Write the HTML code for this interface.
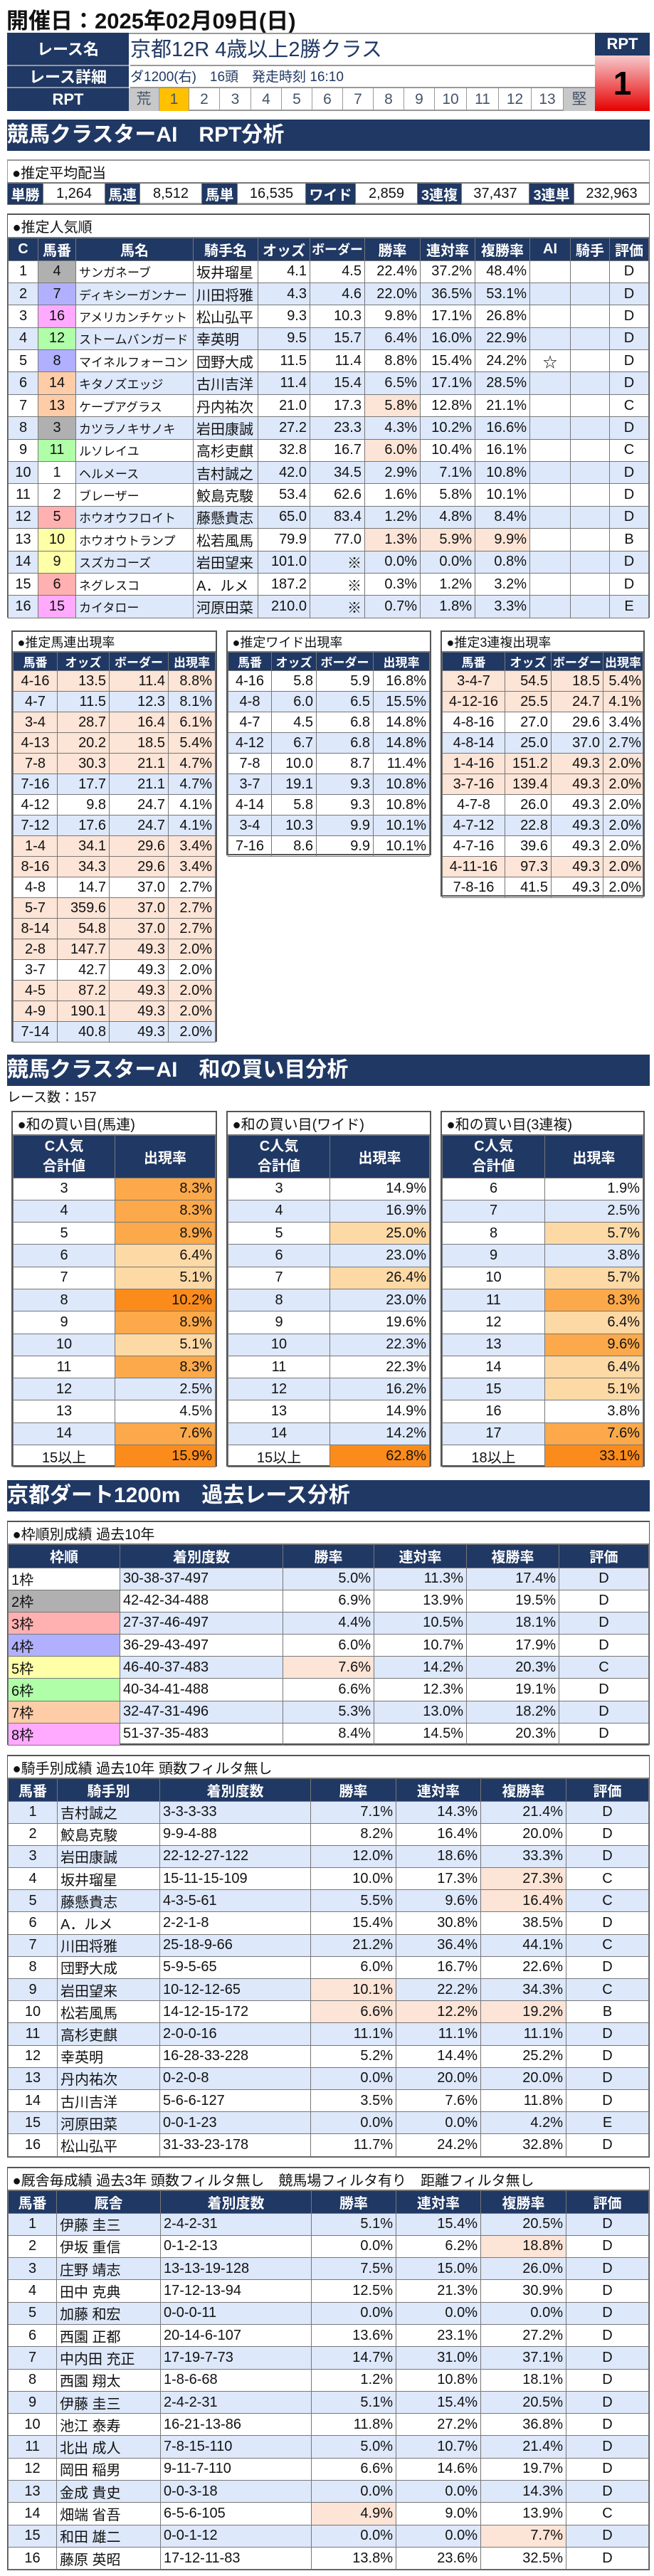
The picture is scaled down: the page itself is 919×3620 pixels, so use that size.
<!DOCTYPE html>
<html><head><meta charset="utf-8">
<style>
*{box-sizing:border-box}
body{margin:0;width:919px;height:3620px;background:#fff;position:relative;font-family:"Liberation Sans","Noto Sans CJK JP",sans-serif;color:#111;overflow:hidden}
.abs{position:absolute}
.banner{position:absolute;left:10px;width:903px;height:44px;background:#203864;color:#fff;font-weight:bold;font-size:30px;line-height:44px;white-space:nowrap;overflow:hidden}
.box{position:absolute;border:2px solid #555;background:#fff}
table{border-collapse:collapse;width:100%;table-layout:fixed}
td{border:1px solid #777;padding:0 4px;white-space:nowrap;overflow:hidden;font-size:20px}
.tt td{border:none;border-bottom:2px solid #777;font-size:20px;padding-left:6px;text-align:left}
.nv{background:#203864;color:#fff;font-weight:bold;text-align:center}
.b{background:#dde8fa}.p{background:#fce4d6}
.r{text-align:right}.c{text-align:center}
.o1{background:#fdd9a6}.o2{background:#fba94a}.o3{background:#fb8c1c}
</style></head><body>

<div class="abs" style="left:9px;top:4px;font-size:31px;font-weight:bold;white-space:nowrap">開催日：2025年02月09日(日)</div>

<!-- race header -->
<div class="abs" style="left:10px;top:46px;width:826px;height:110px;border-top:2px solid #999;border-bottom:2px solid #999;background:#fff"></div>
<div class="abs nv" style="left:10px;top:46px;width:171px;height:47px;line-height:47px;font-size:22px;border-bottom:2px solid #999">レース名</div>
<div class="abs nv" style="left:10px;top:93px;width:171px;height:31px;line-height:31px;font-size:22px;border-bottom:2px solid #999">レース詳細</div>
<div class="abs nv" style="left:10px;top:124px;width:171px;height:32px;line-height:32px;font-size:22px">RPT</div>
<div class="abs" style="left:183px;top:48px;height:45px;line-height:45px;font-size:29px;color:#203864;white-space:nowrap;border-bottom:2px solid #999;width:653px">京都12R 4歳以上2勝クラス</div>
<div class="abs" style="left:183px;top:93px;height:31px;line-height:31px;font-size:19px;color:#203864;white-space:nowrap;border-bottom:2px solid #999;width:653px">ダ1200(右)　16頭　発走時刻 16:10</div>
<div class="abs" style="left:181px;top:124px;height:32px;width:655px;display:flex;font-size:21px;color:#44546a">
<div style="width:43px;background:#c8c8c8;text-align:center;line-height:32px;border-right:1px solid #999">荒</div>
<div style="width:42px;background:#ffc000;text-align:center;line-height:32px;border-right:1px solid #999">1</div>
<div style="width:43px;text-align:center;line-height:32px;border-right:1px solid #999">2</div>
<div style="width:44px;text-align:center;line-height:32px;border-right:1px solid #999">3</div>
<div style="width:43px;text-align:center;line-height:32px;border-right:1px solid #999">4</div>
<div style="width:43px;text-align:center;line-height:32px;border-right:1px solid #999">5</div>
<div style="width:43px;text-align:center;line-height:32px;border-right:1px solid #999">6</div>
<div style="width:43px;text-align:center;line-height:32px;border-right:1px solid #999">7</div>
<div style="width:43px;text-align:center;line-height:32px;border-right:1px solid #999">8</div>
<div style="width:43px;text-align:center;line-height:32px;border-right:1px solid #999">9</div>
<div style="width:45px;text-align:center;line-height:32px;border-right:1px solid #999">10</div>
<div style="width:45px;text-align:center;line-height:32px;border-right:1px solid #999">11</div>
<div style="width:46px;text-align:center;line-height:32px;border-right:1px solid #999">12</div>
<div style="width:45px;text-align:center;line-height:32px;border-right:1px solid #999">13</div>
<div style="width:44px;background:#c8c8c8;text-align:center;line-height:32px">堅</div>
</div>
<div class="abs nv" style="left:836px;top:46px;width:77px;height:32px;line-height:32px;font-size:22px">RPT</div>
<div class="abs" style="left:836px;top:78px;width:77px;height:78px;background:linear-gradient(#f6c9cc,#e60000);text-align:center;font-size:46px;font-weight:bold;line-height:78px;color:#000">1</div>

<div class="banner" style="top:168px">競馬クラスターAI　RPT分析</div>

<!-- payout -->
<div class="box" style="left:10px;top:224px;width:903px;height:63px;border-width:2px 0 2px 0;border-color:#999">
<table><colgroup><col style="width:50px"><col style="width:87px"><col style="width:49px"><col style="width:87px"><col style="width:50px"><col style="width:96px"><col style="width:70px"><col style="width:87px"><col style="width:62px"><col style="width:95px"><col style="width:63px"><col></colgroup>
<tr class="tt" style="height:31px"><td colspan="12" style="border-left:1px solid #999;border-right:1px solid #999">●推定平均配当</td></tr>
<tr style="height:30px">
<td class="nv" style="padding:0">単勝</td><td class="c">1,264</td>
<td class="nv" style="padding:0">馬連</td><td class="c">8,512</td>
<td class="nv" style="padding:0">馬単</td><td class="c">16,535</td>
<td class="nv" style="padding:0">ワイド</td><td class="c">2,859</td>
<td class="nv" style="padding:0">3連複</td><td class="c">37,437</td>
<td class="nv" style="padding:0">3連単</td><td class="c">232,963</td></tr></table>
</div>

<!-- popularity -->
<div class="box" style="left:10px;top:300px;width:903px;height:568px;border-width:2px 1px 2px 1px">
<table style="font-size:20px">
<colgroup><col style="width:42px"><col style="width:53px"><col style="width:165px"><col style="width:91px"><col style="width:73px"><col style="width:77px"><col style="width:78px"><col style="width:77px"><col style="width:77px"><col style="width:57px"><col style="width:55px"><col></colgroup>
<tr class="tt" style="height:32px"><td colspan="12">●推定人気順</td></tr>
<tr style="height:32px"><td class="nv">C</td><td class="nv" style="padding:0">馬番</td><td class="nv">馬名</td><td class="nv">騎手名</td><td class="nv" style="padding:0">オッズ</td><td class="nv" style="padding:0;font-size:18px">ボーダー</td><td class="nv">勝率</td><td class="nv" style="padding:0">連対率</td><td class="nv" style="padding:0">複勝率</td><td class="nv">AI</td><td class="nv" style="padding:0">騎手</td><td class="nv" style="padding:0">評価</td></tr>
<tr style="height:31.4px"><td class="c">1</td><td class="c" style="background:#b0b0b0">4</td><td style="font-size:17px">サンガネーブ</td><td>坂井瑠星</td><td class="r">4.1</td><td class="r">4.5</td><td class="r">22.4%</td><td class="r">37.2%</td><td class="r">48.4%</td><td></td><td></td><td class="c">D</td></tr>
<tr class="b" style="height:31.4px"><td class="c">2</td><td class="c" style="background:#b0b0ff">7</td><td style="font-size:17px">ディキシーガンナー</td><td>川田将雅</td><td class="r">4.3</td><td class="r">4.6</td><td class="r">22.0%</td><td class="r">36.5%</td><td class="r">53.1%</td><td></td><td></td><td class="c">D</td></tr>
<tr style="height:31.4px"><td class="c">3</td><td class="c" style="background:#ffaaff">16</td><td style="font-size:17px">アメリカンチケット</td><td>松山弘平</td><td class="r">9.3</td><td class="r">10.3</td><td class="r">9.8%</td><td class="r">17.1%</td><td class="r">26.8%</td><td></td><td></td><td class="c">D</td></tr>
<tr class="b" style="height:31.4px"><td class="c">4</td><td class="c" style="background:#b0ffa8">12</td><td style="font-size:17px">ストームバンガード</td><td>幸英明</td><td class="r">9.5</td><td class="r">15.7</td><td class="r">6.4%</td><td class="r">16.0%</td><td class="r">22.9%</td><td></td><td></td><td class="c">D</td></tr>
<tr style="height:31.4px"><td class="c">5</td><td class="c" style="background:#b0b0ff">8</td><td style="font-size:17px">マイネルフォーコン</td><td>団野大成</td><td class="r">11.5</td><td class="r">11.4</td><td class="r">8.8%</td><td class="r">15.4%</td><td class="r">24.2%</td><td class="c">☆</td><td></td><td class="c">D</td></tr>
<tr class="b" style="height:31.4px"><td class="c">6</td><td class="c" style="background:#ffcca8">14</td><td style="font-size:17px">キタノズエッジ</td><td>古川吉洋</td><td class="r">11.4</td><td class="r">15.4</td><td class="r">6.5%</td><td class="r">17.1%</td><td class="r">28.5%</td><td></td><td></td><td class="c">D</td></tr>
<tr style="height:31.4px"><td class="c">7</td><td class="c" style="background:#ffcca8">13</td><td style="font-size:17px">ケープアグラス</td><td>丹内祐次</td><td class="r">21.0</td><td class="r">17.3</td><td class="r p">5.8%</td><td class="r">12.8%</td><td class="r">21.1%</td><td></td><td></td><td class="c">C</td></tr>
<tr class="b" style="height:31.4px"><td class="c">8</td><td class="c" style="background:#b0b0b0">3</td><td style="font-size:17px">カツラノキサノキ</td><td>岩田康誠</td><td class="r">27.2</td><td class="r">23.3</td><td class="r">4.3%</td><td class="r">10.2%</td><td class="r">16.6%</td><td></td><td></td><td class="c">D</td></tr>
<tr style="height:31.4px"><td class="c">9</td><td class="c" style="background:#b0ffa8">11</td><td style="font-size:17px">ルソレイユ</td><td>高杉吏麒</td><td class="r">32.8</td><td class="r">16.7</td><td class="r p">6.0%</td><td class="r">10.4%</td><td class="r">16.1%</td><td></td><td></td><td class="c">C</td></tr>
<tr class="b" style="height:31.4px"><td class="c">10</td><td class="c" style="background:#fff">1</td><td style="font-size:17px">ヘルメース</td><td>吉村誠之</td><td class="r">42.0</td><td class="r">34.5</td><td class="r">2.9%</td><td class="r">7.1%</td><td class="r">10.8%</td><td></td><td></td><td class="c">D</td></tr>
<tr style="height:31.4px"><td class="c">11</td><td class="c">2</td><td style="font-size:17px">ブレーザー</td><td>鮫島克駿</td><td class="r">53.4</td><td class="r">62.6</td><td class="r">1.6%</td><td class="r">5.8%</td><td class="r">10.1%</td><td></td><td></td><td class="c">D</td></tr>
<tr class="b" style="height:31.4px"><td class="c">12</td><td class="c" style="background:#ffb0b0">5</td><td style="font-size:17px">ホウオウフロイト</td><td>藤懸貴志</td><td class="r">65.0</td><td class="r">83.4</td><td class="r">1.2%</td><td class="r">4.8%</td><td class="r">8.4%</td><td></td><td></td><td class="c">D</td></tr>
<tr style="height:31.4px"><td class="c">13</td><td class="c" style="background:#ffffa8">10</td><td style="font-size:17px">ホウオウトランプ</td><td>松若風馬</td><td class="r">79.9</td><td class="r">77.0</td><td class="r p">1.3%</td><td class="r p">5.9%</td><td class="r p">9.9%</td><td></td><td></td><td class="c">B</td></tr>
<tr class="b" style="height:31.4px"><td class="c">14</td><td class="c" style="background:#ffffa8">9</td><td style="font-size:17px">スズカコーズ</td><td>岩田望来</td><td class="r">101.0</td><td class="r">※</td><td class="r">0.0%</td><td class="r">0.0%</td><td class="r">0.8%</td><td></td><td></td><td class="c">D</td></tr>
<tr style="height:31.4px"><td class="c">15</td><td class="c" style="background:#ffb0b0">6</td><td style="font-size:17px">ネグレスコ</td><td>A．ルメ</td><td class="r">187.2</td><td class="r">※</td><td class="r">0.3%</td><td class="r">1.2%</td><td class="r">3.2%</td><td></td><td></td><td class="c">D</td></tr>
<tr class="b" style="height:31.4px"><td class="c">16</td><td class="c" style="background:#ffaaff">15</td><td style="font-size:17px">カイタロー</td><td>河原田菜</td><td class="r">210.0</td><td class="r">※</td><td class="r">0.7%</td><td class="r">1.8%</td><td class="r">3.3%</td><td></td><td></td><td class="c">E</td></tr>
</table></div>

<!-- small tables -->
<div class="box" style="left:16px;top:886px;width:289px;height:578px">
<table><colgroup><col style="width:62px"><col style="width:73px"><col style="width:83px"><col></colgroup>
<tr class="tt" style="height:28px"><td colspan="4" style="font-size:18px">●推定馬連出現率</td></tr>
<tr style="height:26px"><td class="nv" style="font-size:17px;padding:0">馬番</td><td class="nv" style="font-size:17px;padding:0">オッズ</td><td class="nv" style="font-size:17px;padding:0">ボーダー</td><td class="nv" style="font-size:17px;padding:0">出現率</td></tr>
<tr class="p" style="height:29px"><td class="c">4-16</td><td class="r">13.5</td><td class="r">11.4</td><td class="r">8.8%</td></tr>
<tr class="b" style="height:29px"><td class="c">4-7</td><td class="r">11.5</td><td class="r">12.3</td><td class="r">8.1%</td></tr>
<tr class="p" style="height:29px"><td class="c">3-4</td><td class="r">28.7</td><td class="r">16.4</td><td class="r">6.1%</td></tr>
<tr class="p" style="height:29px"><td class="c">4-13</td><td class="r">20.2</td><td class="r">18.5</td><td class="r">5.4%</td></tr>
<tr class="p" style="height:29px"><td class="c">7-8</td><td class="r">30.3</td><td class="r">21.1</td><td class="r">4.7%</td></tr>
<tr class="b" style="height:29px"><td class="c">7-16</td><td class="r">17.7</td><td class="r">21.1</td><td class="r">4.7%</td></tr>
<tr style="height:29px"><td class="c">4-12</td><td class="r">9.8</td><td class="r">24.7</td><td class="r">4.1%</td></tr>
<tr class="b" style="height:29px"><td class="c">7-12</td><td class="r">17.6</td><td class="r">24.7</td><td class="r">4.1%</td></tr>
<tr class="p" style="height:29px"><td class="c">1-4</td><td class="r">34.1</td><td class="r">29.6</td><td class="r">3.4%</td></tr>
<tr class="p" style="height:29px"><td class="c">8-16</td><td class="r">34.3</td><td class="r">29.6</td><td class="r">3.4%</td></tr>
<tr style="height:29px"><td class="c">4-8</td><td class="r">14.7</td><td class="r">37.0</td><td class="r">2.7%</td></tr>
<tr class="p" style="height:29px"><td class="c">5-7</td><td class="r">359.6</td><td class="r">37.0</td><td class="r">2.7%</td></tr>
<tr class="p" style="height:29px"><td class="c">8-14</td><td class="r">54.8</td><td class="r">37.0</td><td class="r">2.7%</td></tr>
<tr class="p" style="height:29px"><td class="c">2-8</td><td class="r">147.7</td><td class="r">49.3</td><td class="r">2.0%</td></tr>
<tr style="height:29px"><td class="c">3-7</td><td class="r">42.7</td><td class="r">49.3</td><td class="r">2.0%</td></tr>
<tr class="p" style="height:29px"><td class="c">4-5</td><td class="r">87.2</td><td class="r">49.3</td><td class="r">2.0%</td></tr>
<tr class="p" style="height:29px"><td class="c">4-9</td><td class="r">190.1</td><td class="r">49.3</td><td class="r">2.0%</td></tr>
<tr class="b" style="height:29px"><td class="c">7-14</td><td class="r">40.8</td><td class="r">49.3</td><td class="r">2.0%</td></tr>
</table></div>

<div class="box" style="left:318px;top:886px;width:288px;height:316px">
<table><colgroup><col style="width:61px"><col style="width:63px"><col style="width:80px"><col></colgroup>
<tr class="tt" style="height:28px"><td colspan="4" style="font-size:18px">●推定ワイド出現率</td></tr>
<tr style="height:26px"><td class="nv" style="font-size:17px;padding:0">馬番</td><td class="nv" style="font-size:17px;padding:0">オッズ</td><td class="nv" style="font-size:17px;padding:0">ボーダー</td><td class="nv" style="font-size:17px;padding:0">出現率</td></tr>
<tr style="height:29px"><td class="c">4-16</td><td class="r">5.8</td><td class="r">5.9</td><td class="r">16.8%</td></tr>
<tr class="b" style="height:29px"><td class="c">4-8</td><td class="r">6.0</td><td class="r">6.5</td><td class="r">15.5%</td></tr>
<tr style="height:29px"><td class="c">4-7</td><td class="r">4.5</td><td class="r">6.8</td><td class="r">14.8%</td></tr>
<tr class="b" style="height:29px"><td class="c">4-12</td><td class="r">6.7</td><td class="r">6.8</td><td class="r">14.8%</td></tr>
<tr style="height:29px"><td class="c">7-8</td><td class="r">10.0</td><td class="r">8.7</td><td class="r">11.4%</td></tr>
<tr class="b" style="height:29px"><td class="c">3-7</td><td class="r">19.1</td><td class="r">9.3</td><td class="r">10.8%</td></tr>
<tr style="height:29px"><td class="c">4-14</td><td class="r">5.8</td><td class="r">9.3</td><td class="r">10.8%</td></tr>
<tr class="b" style="height:29px"><td class="c">3-4</td><td class="r">10.3</td><td class="r">9.9</td><td class="r">10.1%</td></tr>
<tr style="height:29px"><td class="c">7-16</td><td class="r">8.6</td><td class="r">9.9</td><td class="r">10.1%</td></tr>
</table></div>

<div class="box" style="left:619px;top:886px;width:287px;height:374px">
<table><colgroup><col style="width:88px"><col style="width:65px"><col style="width:73px"><col></colgroup>
<tr class="tt" style="height:28px"><td colspan="4" style="font-size:18px">●推定3連複出現率</td></tr>
<tr style="height:26px"><td class="nv" style="font-size:17px;padding:0">馬番</td><td class="nv" style="font-size:17px;padding:0">オッズ</td><td class="nv" style="font-size:17px;padding:0">ボーダー</td><td class="nv" style="font-size:17px;padding:0">出現率</td></tr>
<tr class="p" style="height:29px"><td class="c">3-4-7</td><td class="r">54.5</td><td class="r">18.5</td><td class="r" style="padding:0 2px">5.4%</td></tr>
<tr class="p" style="height:29px"><td class="c">4-12-16</td><td class="r">25.5</td><td class="r">24.7</td><td class="r" style="padding:0 2px">4.1%</td></tr>
<tr style="height:29px"><td class="c">4-8-16</td><td class="r">27.0</td><td class="r">29.6</td><td class="r" style="padding:0 2px">3.4%</td></tr>
<tr class="b" style="height:29px"><td class="c">4-8-14</td><td class="r">25.0</td><td class="r">37.0</td><td class="r" style="padding:0 2px">2.7%</td></tr>
<tr class="p" style="height:29px"><td class="c">1-4-16</td><td class="r">151.2</td><td class="r">49.3</td><td class="r" style="padding:0 2px">2.0%</td></tr>
<tr class="p" style="height:29px"><td class="c">3-7-16</td><td class="r">139.4</td><td class="r">49.3</td><td class="r" style="padding:0 2px">2.0%</td></tr>
<tr style="height:29px"><td class="c">4-7-8</td><td class="r">26.0</td><td class="r">49.3</td><td class="r" style="padding:0 2px">2.0%</td></tr>
<tr class="b" style="height:29px"><td class="c">4-7-12</td><td class="r">22.8</td><td class="r">49.3</td><td class="r" style="padding:0 2px">2.0%</td></tr>
<tr style="height:29px"><td class="c">4-7-16</td><td class="r">39.6</td><td class="r">49.3</td><td class="r" style="padding:0 2px">2.0%</td></tr>
<tr class="p" style="height:29px"><td class="c">4-11-16</td><td class="r">97.3</td><td class="r">49.3</td><td class="r" style="padding:0 2px">2.0%</td></tr>
<tr style="height:29px"><td class="c">7-8-16</td><td class="r">41.5</td><td class="r">49.3</td><td class="r" style="padding:0 2px">2.0%</td></tr>
</table></div>

<div class="banner" style="top:1482px">競馬クラスターAI　和の買い目分析</div>
<div class="abs" style="left:10px;top:1527px;font-size:19px;white-space:nowrap">レース数：157</div>

<!-- wa tables -->
<div class="box" style="left:16px;top:1561px;width:289px;height:500px">
<table><colgroup><col style="width:143px"><col></colgroup>
<tr class="tt" style="height:32px"><td colspan="2">●和の買い目(馬連)</td></tr>
<tr style="height:60px"><td class="nv" style="line-height:28px">C人気<br>合計値</td><td class="nv">出現率</td></tr>
<tr style="height:31.3px"><td class="c">3</td><td class="r o2">8.3%</td></tr>
<tr style="height:31.3px" class="b"><td class="c">4</td><td class="r o2">8.3%</td></tr>
<tr style="height:31.3px"><td class="c">5</td><td class="r o2">8.9%</td></tr>
<tr style="height:31.3px" class="b"><td class="c">6</td><td class="r o1">6.4%</td></tr>
<tr style="height:31.3px"><td class="c">7</td><td class="r o1">5.1%</td></tr>
<tr style="height:31.3px" class="b"><td class="c">8</td><td class="r o3">10.2%</td></tr>
<tr style="height:31.3px"><td class="c">9</td><td class="r o2">8.9%</td></tr>
<tr style="height:31.3px" class="b"><td class="c">10</td><td class="r o1">5.1%</td></tr>
<tr style="height:31.3px"><td class="c">11</td><td class="r o2">8.3%</td></tr>
<tr style="height:31.3px" class="b"><td class="c">12</td><td class="r">2.5%</td></tr>
<tr style="height:31.3px"><td class="c">13</td><td class="r">4.5%</td></tr>
<tr style="height:31.3px" class="b"><td class="c">14</td><td class="r o2">7.6%</td></tr>
<tr style="height:31.3px"><td class="c">15以上</td><td class="r o3">15.9%</td></tr>
</table></div>

<div class="box" style="left:318px;top:1561px;width:288px;height:500px">
<table><colgroup><col style="width:143px"><col></colgroup>
<tr class="tt" style="height:32px"><td colspan="2">●和の買い目(ワイド)</td></tr>
<tr style="height:60px"><td class="nv" style="line-height:28px">C人気<br>合計値</td><td class="nv">出現率</td></tr>
<tr style="height:31.3px"><td class="c">3</td><td class="r">14.9%</td></tr>
<tr style="height:31.3px" class="b"><td class="c">4</td><td class="r">16.9%</td></tr>
<tr style="height:31.3px"><td class="c">5</td><td class="r o1">25.0%</td></tr>
<tr style="height:31.3px" class="b"><td class="c">6</td><td class="r">23.0%</td></tr>
<tr style="height:31.3px"><td class="c">7</td><td class="r o1">26.4%</td></tr>
<tr style="height:31.3px" class="b"><td class="c">8</td><td class="r">23.0%</td></tr>
<tr style="height:31.3px"><td class="c">9</td><td class="r">19.6%</td></tr>
<tr style="height:31.3px" class="b"><td class="c">10</td><td class="r">22.3%</td></tr>
<tr style="height:31.3px"><td class="c">11</td><td class="r">22.3%</td></tr>
<tr style="height:31.3px" class="b"><td class="c">12</td><td class="r">16.2%</td></tr>
<tr style="height:31.3px"><td class="c">13</td><td class="r">14.9%</td></tr>
<tr style="height:31.3px" class="b"><td class="c">14</td><td class="r">14.2%</td></tr>
<tr style="height:31.3px"><td class="c">15以上</td><td class="r o3">62.8%</td></tr>
</table></div>

<div class="box" style="left:619px;top:1561px;width:287px;height:500px">
<table><colgroup><col style="width:144px"><col></colgroup>
<tr class="tt" style="height:32px"><td colspan="2">●和の買い目(3連複)</td></tr>
<tr style="height:60px"><td class="nv" style="line-height:28px">C人気<br>合計値</td><td class="nv">出現率</td></tr>
<tr style="height:31.3px"><td class="c">6</td><td class="r">1.9%</td></tr>
<tr style="height:31.3px" class="b"><td class="c">7</td><td class="r">2.5%</td></tr>
<tr style="height:31.3px"><td class="c">8</td><td class="r o1">5.7%</td></tr>
<tr style="height:31.3px" class="b"><td class="c">9</td><td class="r">3.8%</td></tr>
<tr style="height:31.3px"><td class="c">10</td><td class="r o1">5.7%</td></tr>
<tr style="height:31.3px" class="b"><td class="c">11</td><td class="r o2">8.3%</td></tr>
<tr style="height:31.3px"><td class="c">12</td><td class="r o1">6.4%</td></tr>
<tr style="height:31.3px" class="b"><td class="c">13</td><td class="r o2">9.6%</td></tr>
<tr style="height:31.3px"><td class="c">14</td><td class="r o1">6.4%</td></tr>
<tr style="height:31.3px" class="b"><td class="c">15</td><td class="r o1">5.1%</td></tr>
<tr style="height:31.3px"><td class="c">16</td><td class="r">3.8%</td></tr>
<tr style="height:31.3px" class="b"><td class="c">17</td><td class="r o2">7.6%</td></tr>
<tr style="height:31.3px"><td class="c">18以上</td><td class="r o3">33.1%</td></tr>
</table></div>

<div class="banner" style="top:2080px">京都ダート1200m　過去レース分析</div>

<!-- waku -->
<div class="box" style="left:10px;top:2137px;width:903px;height:315px;border-width:2px 1px 2px 1px">
<table><colgroup><col style="width:157px"><col style="width:229px"><col style="width:128px"><col style="width:130px"><col style="width:130px"><col></colgroup>
<tr class="tt" style="height:31px"><td colspan="6">●枠順別成績 過去10年</td></tr>
<tr style="height:33px"><td class="nv">枠順</td><td class="nv">着別度数</td><td class="nv">勝率</td><td class="nv">連対率</td><td class="nv">複勝率</td><td class="nv">評価</td></tr>
<tr style="height:31.2px" class="b"><td style="background:#fff">1枠</td><td>30-38-37-497</td><td class="r">5.0%</td><td class="r">11.3%</td><td class="r">17.4%</td><td class="c">D</td></tr>
<tr style="height:31.2px"><td style="background:#b0b0b0">2枠</td><td>42-42-34-488</td><td class="r">6.9%</td><td class="r">13.9%</td><td class="r">19.5%</td><td class="c">D</td></tr>
<tr style="height:31.2px" class="b"><td style="background:#ffb0b0">3枠</td><td>27-37-46-497</td><td class="r">4.4%</td><td class="r">10.5%</td><td class="r">18.1%</td><td class="c">D</td></tr>
<tr style="height:31.2px"><td style="background:#b0b0ff">4枠</td><td>36-29-43-497</td><td class="r">6.0%</td><td class="r">10.7%</td><td class="r">17.9%</td><td class="c">D</td></tr>
<tr style="height:31.2px" class="b"><td style="background:#ffffa8">5枠</td><td>46-40-37-483</td><td class="r p">7.6%</td><td class="r">14.2%</td><td class="r">20.3%</td><td class="c">C</td></tr>
<tr style="height:31.2px"><td style="background:#b0ffa8">6枠</td><td>40-34-41-488</td><td class="r">6.6%</td><td class="r">12.3%</td><td class="r">19.1%</td><td class="c">D</td></tr>
<tr style="height:31.2px" class="b"><td style="background:#ffcca8">7枠</td><td>32-47-31-496</td><td class="r">5.3%</td><td class="r">13.0%</td><td class="r">18.2%</td><td class="c">D</td></tr>
<tr style="height:31.2px"><td style="background:#ffaaff">8枠</td><td>51-37-35-483</td><td class="r">8.4%</td><td class="r">14.5%</td><td class="r">20.3%</td><td class="c">D</td></tr>
</table></div>

<!-- jockey -->
<div class="box" style="left:10px;top:2466px;width:903px;height:566px;border-width:2px 1px 2px 1px">
<table><colgroup><col style="width:69px"><col style="width:144px"><col style="width:212px"><col style="width:120px"><col style="width:119px"><col style="width:120px"><col></colgroup>
<tr class="tt" style="height:31px"><td colspan="7">●騎手別成績 過去10年 頭数フィルタ無し</td></tr>
<tr style="height:32px"><td class="nv" style="padding:0">馬番</td><td class="nv">騎手別</td><td class="nv">着別度数</td><td class="nv">勝率</td><td class="nv">連対率</td><td class="nv">複勝率</td><td class="nv">評価</td></tr>
<tr style="height:31.2px" class="b"><td class="c">1</td><td>吉村誠之</td><td>3-3-3-33</td><td class="r">7.1%</td><td class="r">14.3%</td><td class="r">21.4%</td><td class="c">D</td></tr>
<tr style="height:31.2px"><td class="c">2</td><td>鮫島克駿</td><td>9-9-4-88</td><td class="r">8.2%</td><td class="r">16.4%</td><td class="r">20.0%</td><td class="c">D</td></tr>
<tr style="height:31.2px" class="b"><td class="c">3</td><td>岩田康誠</td><td>22-12-27-122</td><td class="r">12.0%</td><td class="r">18.6%</td><td class="r">33.3%</td><td class="c">D</td></tr>
<tr style="height:31.2px"><td class="c">4</td><td>坂井瑠星</td><td>15-11-15-109</td><td class="r">10.0%</td><td class="r">17.3%</td><td class="r p">27.3%</td><td class="c">C</td></tr>
<tr style="height:31.2px" class="b"><td class="c">5</td><td>藤懸貴志</td><td>4-3-5-61</td><td class="r">5.5%</td><td class="r">9.6%</td><td class="r p">16.4%</td><td class="c">C</td></tr>
<tr style="height:31.2px"><td class="c">6</td><td>A．ルメ</td><td>2-2-1-8</td><td class="r">15.4%</td><td class="r">30.8%</td><td class="r">38.5%</td><td class="c">D</td></tr>
<tr style="height:31.2px" class="b"><td class="c">7</td><td>川田将雅</td><td>25-18-9-66</td><td class="r">21.2%</td><td class="r">36.4%</td><td class="r">44.1%</td><td class="c">C</td></tr>
<tr style="height:31.2px"><td class="c">8</td><td>団野大成</td><td>5-9-5-65</td><td class="r">6.0%</td><td class="r">16.7%</td><td class="r">22.6%</td><td class="c">D</td></tr>
<tr style="height:31.2px" class="b"><td class="c">9</td><td>岩田望来</td><td>10-12-12-65</td><td class="r p">10.1%</td><td class="r">22.2%</td><td class="r">34.3%</td><td class="c">C</td></tr>
<tr style="height:31.2px"><td class="c">10</td><td>松若風馬</td><td>14-12-15-172</td><td class="r p">6.6%</td><td class="r p">12.2%</td><td class="r p">19.2%</td><td class="c">B</td></tr>
<tr style="height:31.2px" class="b"><td class="c">11</td><td>高杉吏麒</td><td>2-0-0-16</td><td class="r">11.1%</td><td class="r">11.1%</td><td class="r">11.1%</td><td class="c">D</td></tr>
<tr style="height:31.2px"><td class="c">12</td><td>幸英明</td><td>16-28-33-228</td><td class="r">5.2%</td><td class="r">14.4%</td><td class="r">25.2%</td><td class="c">D</td></tr>
<tr style="height:31.2px" class="b"><td class="c">13</td><td>丹内祐次</td><td>0-2-0-8</td><td class="r">0.0%</td><td class="r">20.0%</td><td class="r">20.0%</td><td class="c">D</td></tr>
<tr style="height:31.2px"><td class="c">14</td><td>古川吉洋</td><td>5-6-6-127</td><td class="r">3.5%</td><td class="r">7.6%</td><td class="r">11.8%</td><td class="c">D</td></tr>
<tr style="height:31.2px" class="b"><td class="c">15</td><td>河原田菜</td><td>0-0-1-23</td><td class="r">0.0%</td><td class="r">0.0%</td><td class="r">4.2%</td><td class="c">E</td></tr>
<tr style="height:31.2px"><td class="c">16</td><td>松山弘平</td><td>31-33-23-178</td><td class="r">11.7%</td><td class="r">24.2%</td><td class="r">32.8%</td><td class="c">D</td></tr>
</table></div>

<!-- trainer -->
<div class="box" style="left:10px;top:3045px;width:903px;height:567px;border-width:2px 1px 2px 1px">
<table><colgroup><col style="width:68px"><col style="width:146px"><col style="width:212px"><col style="width:119px"><col style="width:119px"><col style="width:120px"><col></colgroup>
<tr class="tt" style="height:31px"><td colspan="7">●厩舎毎成績 過去3年 頭数フィルタ無し　競馬場フィルタ有り　距離フィルタ無し</td></tr>
<tr style="height:32px"><td class="nv" style="padding:0">馬番</td><td class="nv">厩舎</td><td class="nv">着別度数</td><td class="nv">勝率</td><td class="nv">連対率</td><td class="nv">複勝率</td><td class="nv">評価</td></tr>
<tr style="height:31.3px" class="b"><td class="c">1</td><td>伊藤 圭三</td><td>2-4-2-31</td><td class="r">5.1%</td><td class="r">15.4%</td><td class="r">20.5%</td><td class="c">D</td></tr>
<tr style="height:31.3px"><td class="c">2</td><td>伊坂 重信</td><td>0-1-2-13</td><td class="r">0.0%</td><td class="r">6.2%</td><td class="r p">18.8%</td><td class="c">D</td></tr>
<tr style="height:31.3px" class="b"><td class="c">3</td><td>庄野 靖志</td><td>13-13-19-128</td><td class="r">7.5%</td><td class="r">15.0%</td><td class="r">26.0%</td><td class="c">D</td></tr>
<tr style="height:31.3px"><td class="c">4</td><td>田中 克典</td><td>17-12-13-94</td><td class="r">12.5%</td><td class="r">21.3%</td><td class="r">30.9%</td><td class="c">D</td></tr>
<tr style="height:31.3px" class="b"><td class="c">5</td><td>加藤 和宏</td><td>0-0-0-11</td><td class="r">0.0%</td><td class="r">0.0%</td><td class="r">0.0%</td><td class="c">D</td></tr>
<tr style="height:31.3px"><td class="c">6</td><td>西園 正都</td><td>20-14-6-107</td><td class="r">13.6%</td><td class="r">23.1%</td><td class="r">27.2%</td><td class="c">D</td></tr>
<tr style="height:31.3px" class="b"><td class="c">7</td><td>中内田 充正</td><td>17-19-7-73</td><td class="r">14.7%</td><td class="r">31.0%</td><td class="r">37.1%</td><td class="c">D</td></tr>
<tr style="height:31.3px"><td class="c">8</td><td>西園 翔太</td><td>1-8-6-68</td><td class="r">1.2%</td><td class="r">10.8%</td><td class="r">18.1%</td><td class="c">D</td></tr>
<tr style="height:31.3px" class="b"><td class="c">9</td><td>伊藤 圭三</td><td>2-4-2-31</td><td class="r">5.1%</td><td class="r">15.4%</td><td class="r">20.5%</td><td class="c">D</td></tr>
<tr style="height:31.3px"><td class="c">10</td><td>池江 泰寿</td><td>16-21-13-86</td><td class="r">11.8%</td><td class="r">27.2%</td><td class="r">36.8%</td><td class="c">D</td></tr>
<tr style="height:31.3px" class="b"><td class="c">11</td><td>北出 成人</td><td>7-8-15-110</td><td class="r">5.0%</td><td class="r">10.7%</td><td class="r">21.4%</td><td class="c">D</td></tr>
<tr style="height:31.3px"><td class="c">12</td><td>岡田 稲男</td><td>9-11-7-110</td><td class="r">6.6%</td><td class="r">14.6%</td><td class="r">19.7%</td><td class="c">D</td></tr>
<tr style="height:31.3px" class="b"><td class="c">13</td><td>金成 貴史</td><td>0-0-3-18</td><td class="r">0.0%</td><td class="r">0.0%</td><td class="r">14.3%</td><td class="c">D</td></tr>
<tr style="height:31.3px"><td class="c">14</td><td>畑端 省吾</td><td>6-5-6-105</td><td class="r p">4.9%</td><td class="r">9.0%</td><td class="r">13.9%</td><td class="c">C</td></tr>
<tr style="height:31.3px" class="b"><td class="c">15</td><td>和田 雄二</td><td>0-0-1-12</td><td class="r">0.0%</td><td class="r">0.0%</td><td class="r p">7.7%</td><td class="c">D</td></tr>
<tr style="height:31.3px"><td class="c">16</td><td>藤原 英昭</td><td>17-12-11-83</td><td class="r">13.8%</td><td class="r">23.6%</td><td class="r">32.5%</td><td class="c">D</td></tr>
</table></div>

</body></html>
